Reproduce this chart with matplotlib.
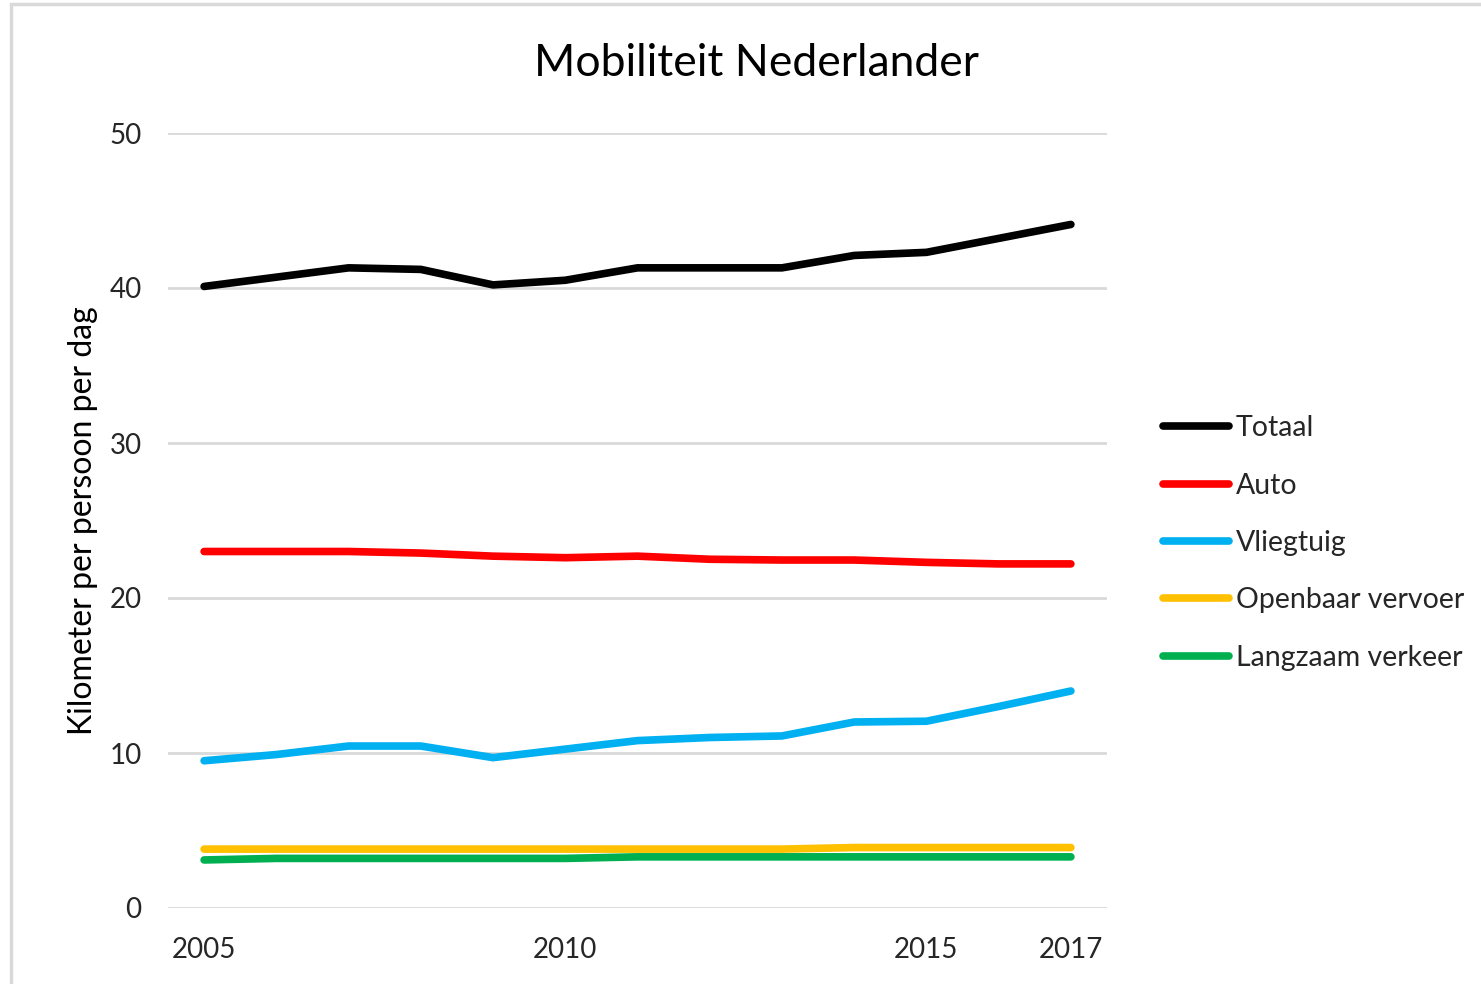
import matplotlib
matplotlib.use("Agg")
import matplotlib.pyplot as plt
from matplotlib.patches import Rectangle

plt.rcParams['font.family'] = ['Lato', 'DejaVu Sans']

years = [2005, 2006, 2007, 2008, 2009, 2010, 2011, 2012, 2013, 2014, 2015, 2016, 2017]
totaal = [40.1, 40.7, 41.3, 41.2, 40.2, 40.5, 41.3, 41.3, 41.3, 42.1, 42.3, 43.2, 44.1]
auto = [23.0, 23.0, 23.0, 22.9, 22.7, 22.6, 22.7, 22.5, 22.45, 22.45, 22.3, 22.2, 22.2]
vliegtuig = [9.5, 9.9, 10.45, 10.45, 9.7, 10.25, 10.8, 11.0, 11.1, 12.0, 12.05, 13.0, 14.0]
openbaar = [3.8, 3.8, 3.8, 3.8, 3.8, 3.8, 3.8, 3.8, 3.8, 3.9, 3.9, 3.9, 3.9]
langzaam = [3.1, 3.2, 3.2, 3.2, 3.2, 3.2, 3.3, 3.3, 3.3, 3.3, 3.3, 3.3, 3.3]
series = [("Totaal", totaal, "#000000"),
          ("Auto", auto, "#ff0000"),
          ("Vliegtuig", vliegtuig, "#00b0f0"),
          ("Openbaar vervoer", openbaar, "#ffc000"),
          ("Langzaam verkeer", langzaam, "#00b050")]
xtick_labels = [2005, 2010, 2015, 2017]
yticks = [0, 10, 20, 30, 40, 50]

W, H = 1481, 984
fig = plt.figure(figsize=(W / 100, H / 100), dpi=100)
fig.patches.append(Rectangle((11 / W, -0.1), 1.2, 1.1 - 4 / H, transform=fig.transFigure,
                             fill=False, edgecolor="#d9d9d9", linewidth=2.5))

ax = fig.add_axes([168 / W, 1 - 908 / H, (1107 - 168) / W, 775 / H])
for name, vals, col in series:
    ax.plot(years, vals, color=col, lw=5.5, solid_capstyle="round", solid_joinstyle="round", label=name)

ax.set_xlim(2004.5, 2017.5)
ax.set_ylim(0, 50)
ax.set_yticks(yticks)
ax.set_xticks(xtick_labels)
ax.set_xticklabels([str(x) for x in xtick_labels])
ax.grid(axis="y", color="#d9d9d9", lw=2)
ax.set_axisbelow(True)
for s in ax.spines.values():
    s.set_visible(False)
ax.tick_params(axis="both", length=0, labelsize=20, labelcolor="#262626")
ax.tick_params(axis="y", pad=19)
ax.tick_params(axis="x", pad=21)
ax.set_ylabel("Kilometer per persoon per dag", fontsize=23, color="#000000", labelpad=8)
fig.text(757 / W, 1 - 64 / H, "Mobiliteit Nederlander", ha="center", va="center", fontsize=32, color="#000000")

handles, labels = ax.get_legend_handles_labels()
leg = fig.legend(handles, labels, loc="upper left", bbox_to_anchor=(1152 / W, 1 - 404 / H),
                 frameon=False, fontsize=20.5, handlelength=2.3, handletextpad=0.25,
                 labelspacing=1.1, borderaxespad=0)
for t in leg.get_texts():
    t.set_color("#262626")

fig.savefig("out.png", dpi=100)
